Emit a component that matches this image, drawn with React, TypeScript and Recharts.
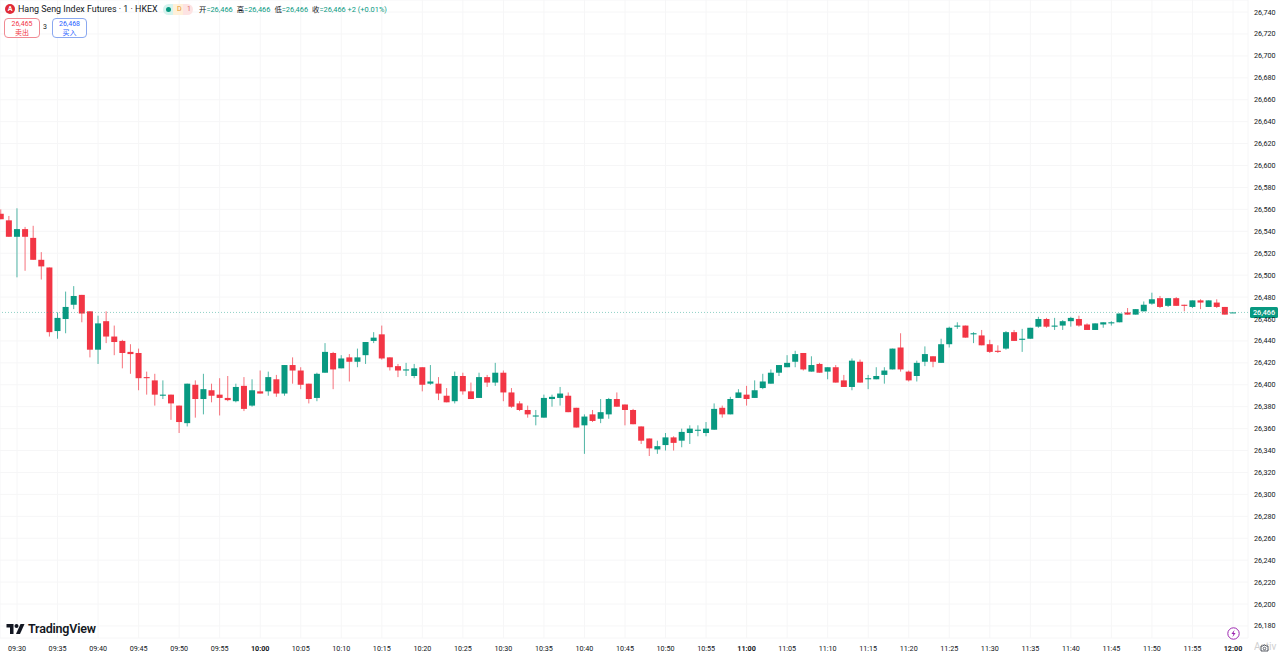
import React from 'react';
import { ComposedChart, Bar, XAxis, YAxis, CartesianGrid, ReferenceLine } from 'recharts';

const UP = '#089981';
const DOWN = '#f23645';

// Minutes after midnight of the first visible candle (09:28), one candle per minute.
const firstMinute = 568;

const opens = [26556,26550,26535,26542,26534,26514,26507,26449,26460,26473,26482,26467,26432,26458,26444,26440,26430,26429,26407,26404,26390,26391,26381,26365,26400,26387,26395,26391,26388,26385,26399,26381,26394,26394,26405,26392,26418,26413,26401,26388,26411,26429,26415,26425,26421,26427,26440,26446,26425,26417,26413,26408,26416,26401,26401,26390,26385,26408,26394,26388,26407,26402,26411,26393,26383,26377,26371,26370,26387,26388,26390,26379,26363,26373,26369,26373,26387,26382,26377,26362,26351,26341,26345,26352,26349,26356,26358,26356,26359,26379,26373,26388,26391,26388,26397,26401,26411,26416,26421,26429,26412,26419,26412,26416,26404,26398,26421,26405,26405,26409,26414,26434,26412,26408,26421,26426,26420,26437,26453,26454,26446,26445,26437,26431,26433,26448,26441,26442,26453,26460,26453,26454,26458,26460,26455,26450,26455,26456,26457,26466,26464,26467,26474,26479,26472,26479,26473,26471,26477,26471,26475,26471,26466];
const highs = [26560,26554,26561,26544,26545,26521,26507,26466,26485,26490,26482,26467,26463,26467,26454,26441,26437,26433,26412,26410,26404,26391,26381,26401,26404,26410,26401,26406,26408,26401,26407,26405,26413,26412,26409,26418,26425,26416,26401,26411,26438,26430,26427,26428,26433,26439,26448,26454,26425,26419,26420,26419,26416,26418,26407,26397,26412,26411,26402,26411,26409,26420,26413,26397,26385,26381,26377,26391,26391,26398,26393,26379,26373,26377,26387,26388,26393,26382,26378,26362,26351,26349,26356,26353,26360,26363,26363,26366,26383,26381,26389,26396,26399,26404,26410,26414,26418,26427,26431,26429,26426,26420,26416,26418,26409,26424,26423,26409,26416,26416,26433,26447,26413,26422,26435,26426,26442,26453,26457,26454,26448,26450,26441,26436,26449,26450,26451,26452,26462,26461,26461,26459,26462,26463,26456,26456,26457,26458,26465,26470,26469,26476,26484,26481,26479,26480,26473,26477,26478,26477,26478,26471,26466];
const lows = [26551,26535,26498,26504,26514,26496,26444,26442,26447,26469,26457,26425,26419,26438,26427,26415,26410,26395,26391,26381,26387,26368,26356,26362,26370,26373,26384,26372,26385,26384,26376,26380,26392,26390,26389,26390,26401,26396,26383,26385,26411,26396,26415,26403,26416,26419,26438,26423,26413,26407,26408,26406,26394,26400,26386,26384,26383,26391,26387,26388,26398,26399,26385,26379,26376,26370,26363,26370,26380,26381,26375,26361,26337,26366,26365,26369,26380,26363,26364,26346,26335,26337,26340,26340,26343,26346,26353,26353,26359,26370,26373,26388,26381,26388,26396,26401,26408,26416,26416,26413,26412,26411,26405,26402,26398,26395,26402,26396,26405,26401,26414,26412,26403,26403,26417,26416,26420,26434,26451,26443,26438,26436,26429,26429,26432,26440,26430,26442,26452,26452,26450,26450,26453,26453,26450,26450,26452,26454,26457,26464,26464,26467,26473,26470,26471,26472,26467,26470,26469,26471,26470,26464,26466];
const closes = [26551,26535,26542,26535,26514,26508,26448,26461,26471,26481,26465,26432,26456,26444,26439,26429,26428,26406,26406,26391,26391,26383,26366,26401,26387,26396,26390,26388,26386,26398,26378,26395,26392,26407,26392,26418,26413,26400,26387,26410,26430,26414,26424,26421,26425,26439,26443,26424,26416,26413,26414,26415,26400,26403,26392,26384,26408,26394,26387,26407,26402,26411,26393,26380,26377,26373,26372,26388,26389,26392,26375,26361,26371,26367,26375,26387,26380,26377,26364,26349,26342,26344,26352,26347,26357,26360,26359,26360,26378,26373,26387,26393,26387,26395,26403,26411,26418,26420,26428,26414,26418,26411,26416,26402,26398,26422,26402,26406,26408,26413,26433,26414,26404,26420,26428,26421,26437,26452,26454,26443,26447,26436,26430,26430,26448,26440,26442,26452,26460,26453,26454,26458,26461,26454,26450,26456,26457,26457,26465,26464,26469,26473,26478,26471,26479,26472,26472,26477,26475,26477,26471,26464,26466];

const yTicks = [26180,26200,26220,26240,26260,26280,26300,26320,26340,26360,26380,26400,26420,26440,26460,26480,26500,26520,26540,26560,26580,26600,26620,26640,26660,26680,26700,26720,26740];
const xTicks = [570,575,580,585,590,595,600,605,610,615,620,625,630,635,640,645,650,655,660,665,670,675,680,685,690,695,700,705,710,715,720];
const xLabels = ['09:30','09:35','09:40','09:45','09:50','09:55','10:00','10:05','10:10','10:15','10:20','10:25','10:30','10:35','10:40','10:45','10:50','10:55','11:00','11:05','11:10','11:15','11:20','11:25','11:30','11:35','11:40','11:45','11:50','11:55','12:00'];
const lastPrice = 26466;

const rows = opens.map((o, i) => ({
  minute: firstMinute + i,
  open: o,
  high: highs[i],
  low: lows[i],
  close: closes[i],
  range: [lows[i], highs[i]],
}));

const FONT = 'Roboto, "Noto Sans CJK SC", sans-serif';

function Candle(props: any) {
  const { x, y, width, height, payload } = props;
  const { open, high, low, close } = payload;
  const color = close >= open ? UP : DOWN;
  const span = high - low || 1;
  const perUnit = height / span;
  const cx = x + width / 2;
  const top = y + (high - Math.max(open, close)) * perUnit;
  const bodyH = Math.max(Math.abs(open - close) * perUnit, 1);
  return (
    <g>
      <line x1={cx} x2={cx} y1={y} y2={y + height} stroke={color} strokeOpacity={0.7} strokeWidth={1} />
      <rect x={x} y={top} width={width} height={bodyH} fill={color} />
    </g>
  );
}

function XTick(props: any) {
  const { x, y, payload } = props;
  const label = xLabels[xTicks.indexOf(payload.value)];
  const bold = label && label.endsWith(':00');
  return (
    <text x={x} y={y + 13} textAnchor="middle" fontFamily={FONT} fontSize={7.2} fontWeight={bold ? 700 : 400} fill="#131722">
      {label}
    </text>
  );
}

function YTick(props: any) {
  const { x, y, payload } = props;
  return (
    <text x={x + 6} y={y + 2.5} textAnchor="start" fontFamily={FONT} fontSize={7.2} fill="#131722">
      {payload.value.toLocaleString('en-US')}
    </text>
  );
}

function PriceBadge(props: any) {
  const { viewBox } = props;
  const y = viewBox.y;
  return (
    <g>
      <rect x={1250} y={y - 5.5} width={28} height={11} rx={1.5} fill={UP} />
      <text x={1264} y={y + 2.7} textAnchor="middle" fontFamily={FONT} fontSize={7.2} fontWeight={500} fill="#fff">
        {lastPrice.toLocaleString('en-US')}
      </text>
    </g>
  );
}

const ohlcLabel: React.CSSProperties = { color: '#131722', marginLeft: 4 };

function Header() {
  return (
    <div style={{ position: 'absolute', left: 0, top: 0, width: 500, height: 40, fontFamily: FONT }}>
      <div style={{ position: 'absolute', left: 5, top: 4, width: 10, height: 10, borderRadius: 5, background: '#e02b38', color: '#fff', fontSize: 7, fontWeight: 700, lineHeight: '10px', textAlign: 'center' }}>
        A
      </div>
      <div style={{ position: 'absolute', left: 18, top: 3, fontSize: 8.9, lineHeight: '13px', color: '#131722', whiteSpace: 'nowrap' }}>
        Hang Seng Index Futures · 1 · HKEX
      </div>
      <div style={{ position: 'absolute', left: 163, top: 4, width: 30, height: 11, borderRadius: 6, background: 'linear-gradient(90deg,#d6f3ee 0 33%,#fff0d9 33% 66%,#fde3e3 66%)', fontSize: 7, lineHeight: '11px', color: '#e8912d', whiteSpace: 'nowrap' }}>
        <span style={{ position: 'absolute', left: 3, top: 3, width: 5, height: 5, borderRadius: 3, background: UP }} />
        <span style={{ position: 'absolute', left: 14 }}>D</span>
        <span style={{ position: 'absolute', left: 24, color: '#e06a6a' }}>1</span>
      </div>
      <div style={{ position: 'absolute', left: 195, top: 4, fontSize: 7.4, lineHeight: '11px', color: UP, whiteSpace: 'nowrap' }}>
        <span style={ohlcLabel}>开</span>=26,466
        <span style={ohlcLabel}>高</span>=26,466
        <span style={ohlcLabel}>低</span>=26,466
        <span style={ohlcLabel}>收</span>=26,466 +2 (+0.01%)
      </div>
      <div style={{ position: 'absolute', left: 4, top: 18, width: 34, height: 18, border: '1px solid #f08a93', borderRadius: 4, textAlign: 'center', color: '#f23645', fontSize: 7, lineHeight: '8.5px', background: '#fff' }}>
        <div style={{ marginTop: 1 }}>26,465</div>
        <div>卖出</div>
      </div>
      <div style={{ position: 'absolute', left: 43, top: 23, fontSize: 7, color: '#131722' }}>3</div>
      <div style={{ position: 'absolute', left: 52, top: 18, width: 33, height: 18, border: '1px solid #8aa8f0', borderRadius: 4, textAlign: 'center', color: '#2962ff', fontSize: 7, lineHeight: '8.5px', background: '#fff' }}>
        <div style={{ marginTop: 1 }}>26,468</div>
        <div>买入</div>
      </div>
    </div>
  );
}

function Footer() {
  return (
    <>
      <div style={{ position: 'absolute', left: 6, top: 622, display: 'flex', alignItems: 'center', fontFamily: FONT }}>
        <svg width={19} height={10} viewBox="0 0 36 20">
          <path d="M0 0h14v20H7V7H0z" fill="#131722" />
          <circle cx="20" cy="4" r="4" fill="#131722" />
          <path d="M28 0h8l-9 20h-8z" fill="#131722" />
        </svg>
        <span style={{ marginLeft: 3, fontSize: 12.5, fontWeight: 600, color: '#131722', lineHeight: '14px', letterSpacing: -0.2 }}>TradingView</span>
      </div>
      <svg style={{ position: 'absolute', left: 1227, top: 627 }} width={13} height={13} viewBox="0 0 13 13">
        <circle cx={6.5} cy={6.5} r={5.7} fill="#fff" stroke="#9c27b0" strokeWidth={1} />
        <path d="M7.6 2.8 4.4 7h2l-1 3.2L8.6 6h-2z" fill="#9c27b0" />
      </svg>
      <div style={{ position: 'absolute', left: 1254, top: 641, fontSize: 10, color: '#d0d0d0', fontFamily: FONT, whiteSpace: 'nowrap', width: 26, overflow: 'hidden' }}>
        Activ
      </div>
      <svg style={{ position: 'absolute', left: 1260, top: 644 }} width={9} height={8} viewBox="0 0 9 8">
        <path d="M1 2h2l1-1h1l1 1h2v5H1z" fill="#fff" stroke="#131722" strokeWidth={0.7} />
        <circle cx={4.5} cy={4.5} r={1.3} fill="none" stroke="#131722" strokeWidth={0.6} />
      </svg>
    </>
  );
}

export default function App() {
  return (
    <div style={{ position: 'absolute', left: 0, top: 0, width: 1280, height: 657, background: '#fff', overflow: 'hidden' }}>
      <ComposedChart
        width={1280}
        height={657}
        data={rows}
        margin={{ top: 0, right: 0, bottom: 0, left: 0 }}
        barCategoryGap={0}
      >
        <CartesianGrid stroke="#f6f6f7" strokeWidth={1} />
        <XAxis
          dataKey="minute"
          type="number"
          domain={[567.9, 721.85]}
          allowDataOverflow
          ticks={xTicks}
          interval={0}
          height={19}
          axisLine={false}
          tickLine={false}
          tickSize={0}
          tick={<XTick />}
          tickMargin={0}
        />
        <YAxis
          orientation="right"
          domain={[26169, 26751]}
          allowDataOverflow
          ticks={yTicks}
          interval={0}
          width={32}
          axisLine={false}
          tickLine={false}
          tickSize={0}
          tick={<YTick />}
          tickMargin={0}
        />
        <ReferenceLine y={lastPrice} stroke={UP} strokeOpacity={0.45} strokeDasharray="1 2" strokeWidth={1} label={<PriceBadge />} />
        <Bar dataKey="range" barSize={6} shape={<Candle />} isAnimationActive={false} />
      </ComposedChart>
      <Header />
      <Footer />
    </div>
  );
}
